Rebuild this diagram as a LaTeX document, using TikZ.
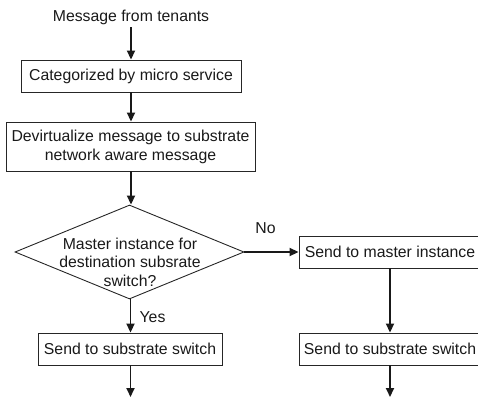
\documentclass[tikz,border=0pt]{standalone}
\usepackage{fontspec}
\setmainfont{Liberation Sans}
\usetikzlibrary{arrows.meta,shapes.geometric}
\begin{document}
\begin{tikzpicture}[x=1pt,y=-1pt,
  every node/.style={font=\fontsize{15.8}{19}\selectfont, text=black!90},
  procbox/.style={draw=black!85, line width=0.9pt, inner sep=0pt, align=center},
  flow/.style={draw=black!90, line width=1.8pt, -{Triangle[length=9pt,width=8pt]}},
  lbl/.style={inner sep=0pt}]
  \useasboundingbox (0,0) rectangle (478,396);
  \clip (0,0) rectangle (478,396);

  % main column
  \node[lbl, inner sep=2.5pt] (src) at (131,17) {Message from tenants};
  \node[procbox, minimum width=220, minimum height=32] (cat) at (131,76) {Categorized by micro service};
  \node[procbox, minimum width=249, minimum height=49] (devirt) at (130.5,146.5)
    {Devirtualize message to substrate\\network aware message};
  \node[draw=black!85, line width=0.9pt, diamond, inner sep=0pt,
        minimum width=229, minimum height=94] (dec) at (129.5,252) {};
  \node[lbl, align=center, font=\fontsize{15.8}{18.5}\selectfont] (dectext) at (130,262)
    {Master instance for\\destination subsrate\\switch?};
  \node[procbox, minimum width=184, minimum height=32] (sendl) at (130,349) {Send to substrate switch};
  \coordinate (outl) at (130.5,397);

  % right column
  \node[procbox, minimum width=182, minimum height=32] (master) at (390,252) {Send to master instance};
  \node[procbox, minimum width=182, minimum height=32] (sendr) at (390,349) {Send to substrate switch};
  \coordinate (outr) at (390,397);

  % connectors
  \draw[flow] (src.south) -- (cat.north -| src.south);
  \draw[flow] (cat.south -| 131,0) -- (devirt.north -| 131,0);
  \draw[flow] (devirt.south -| 131,0) -- (dec.north -| 131,0);
  \draw[flow] (dec.south -| 130.5,0) -- (sendl.north -| 130.5,0);
  \draw[flow] (sendl.south -| 130.5,0) -- (outl);
  \draw[flow] (dec.east) -- (master.west);
  \draw[flow] (master.south) -- (sendr.north);
  \draw[flow] (sendr.south) -- (outr);

  % branch labels
  \node[lbl] (yes) at (152.5,317) {Yes};
  \node[lbl] (no) at (265.5,228) {No};
\end{tikzpicture}
\end{document}
